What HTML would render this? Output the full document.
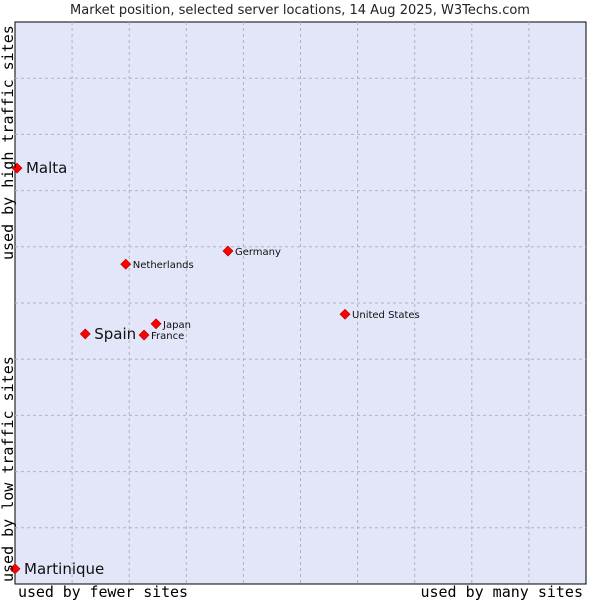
<!DOCTYPE html>
<html><head><meta charset="utf-8"><style>
body{margin:0;background:#fff;width:600px;height:600px;overflow:hidden}
svg text{font-family:"DejaVu Sans","Liberation Sans",sans-serif}
.mono{font-family:"DejaVu Sans Mono","Liberation Mono",monospace}
</style></head><body>
<svg id="c" width="600" height="600">
<text x="300" y="14" text-anchor="middle" font-size="13" fill="#222">Market position, selected server locations, 14 Aug 2025, W3Techs.com</text>
<rect x="15" y="22" width="571" height="562" fill="#e3e5f8" stroke="#000" stroke-width="1"/>
<g id="grid"></g>
<g id="pts"></g>
<text class="mono" x="18" y="597" font-size="15" textLength="170" fill="#000">used by fewer sites</text>
<text class="mono" x="583" y="597" font-size="15" text-anchor="end" fill="#000">used by many sites</text>
<text class="mono" transform="translate(13,582) rotate(-90)" font-size="15" fill="#000">used by low traffic sites</text>
<text class="mono" transform="translate(13,260) rotate(-90)" font-size="15" fill="#000">used by high traffic sites</text>
</svg>
<script>
const names=["Malta","Spain","Martinique","Netherlands","Germany","Japan","France","United States"];
const xVals=[0.35,12.3,0,19.4,37.3,24.7,22.6,57.8];
const yVals=[74.0,44.5,2.7,56.9,59.25,46.3,44.3,48.0];
const big=[true,true,true,false,false,false,false,false];
const ns="http://www.w3.org/2000/svg";
const X0=15,W=571,Y0=584,H=562;
const sx=v=>X0+v/100*W, sy=v=>Y0-v/100*H;
const grid=document.getElementById('grid');
for(let i=1;i<10;i++){
 const v=document.createElementNS(ns,'line');
 v.setAttribute('x1',sx(i*10));v.setAttribute('x2',sx(i*10));v.setAttribute('y1',22);v.setAttribute('y2',584);
 v.setAttribute('stroke','#b4b4b4');v.setAttribute('stroke-dasharray','3,3');
 
 
 grid.appendChild(v);
 const h=document.createElementNS(ns,'line');
 h.setAttribute('y1',sy(i*10));h.setAttribute('y2',sy(i*10));h.setAttribute('x1',15);h.setAttribute('x2',586);
 h.setAttribute('stroke','#b4b4b4');h.setAttribute('stroke-dasharray','3,3');
 
 
 grid.appendChild(h);
}
const pts=document.getElementById('pts');
names.forEach((n,i)=>{
 const x=sx(xVals[i]),y=sy(yVals[i]);
 const d=document.createElementNS(ns,'path');
 d.setAttribute('d',`M${x-5},${y}L${x},${y-5}L${x+5},${y}L${x},${y+5}Z`);
 d.setAttribute('fill','#f00');
 d.setAttribute('stroke','#a00');
 d.setAttribute('stroke-width','0.6');
 
 
 pts.appendChild(d);
 const t=document.createElementNS(ns,'text');
 t.setAttribute('x',x+(big[i]?9:7));t.setAttribute('y',y+(big[i]?5:4));
 t.setAttribute('font-size',big[i]?15:10);t.setAttribute('fill','#111');
 t.textContent=n;
 
 
 pts.appendChild(t);
});
</script>
</body></html>
